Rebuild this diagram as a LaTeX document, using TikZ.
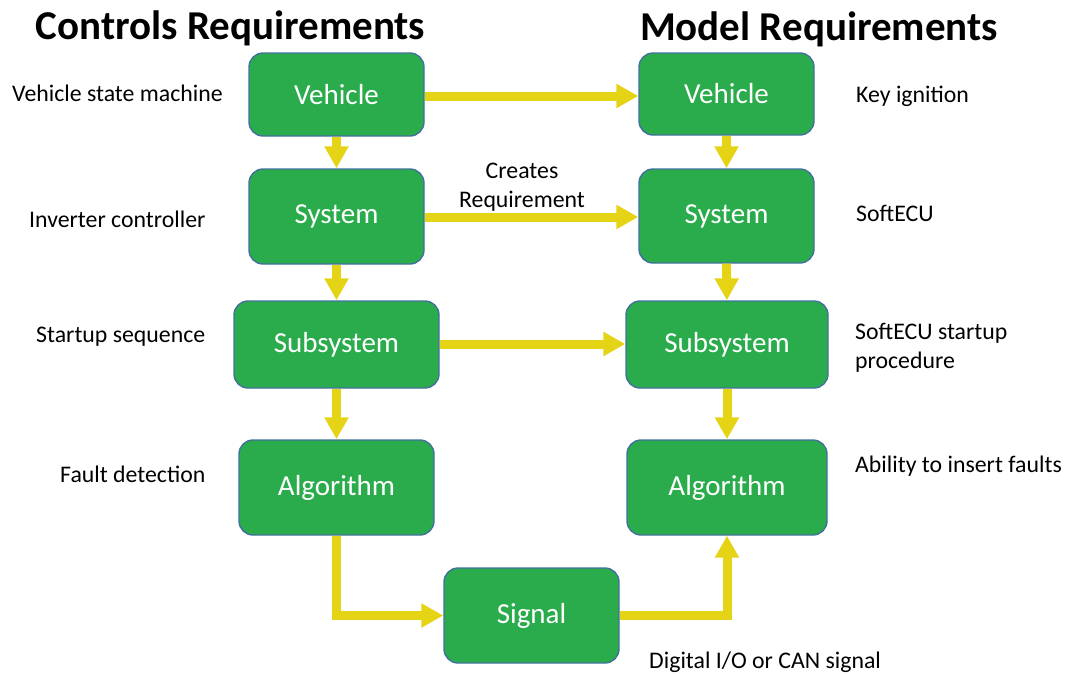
\documentclass[tikz,border=0pt]{standalone}
\usepackage{fontspec}
\setmainfont{Carlito}
\usetikzlibrary{arrows.meta}

\definecolor{boxgreen}{RGB}{42,172,76}
\definecolor{boxedge}{RGB}{65,113,156}
\definecolor{flowyellow}{RGB}{229,212,22}

\tikzset{
  block/.style={draw=boxedge, line width=1.4pt, fill=boxgreen, rounded corners=14pt,
    text=white, font=\fontsize{29pt}{34pt}\selectfont, inner sep=0pt},
  flow/.style={draw=flowyellow, line width=9pt,
    -{Triangle[width=23pt,length=22pt]}},
  heading/.style={font=\fontsize{41pt}{47pt}\selectfont\bfseries, anchor=base, inner sep=0pt},
  note/.style={font=\fontsize{23.8pt}{29pt}\selectfont, anchor=base west, inner sep=0pt},
}

\begin{document}
\begin{tikzpicture}[x=1pt,y=-1pt]
\useasboundingbox (0,0) rectangle (1068,673);

% column headings
\node[heading] (hctl) at (230.5,39) {Controls Requirements};
\node[heading] (hmdl) at (819,40) {Model Requirements};

% controls side
\node[block, minimum width=175pt, minimum height=83pt] (cveh) at (336.5,94.5) {Vehicle};
\node[block, minimum width=175pt, minimum height=95pt] (csys) at (336.5,216.5) {System};
\node[block, minimum width=205pt, minimum height=87pt] (csub) at (336.5,344.5) {Subsystem};
\node[block, minimum width=195pt, minimum height=95pt] (calg) at (336.5,487.5) {Algorithm};

% model side
\node[block, minimum width=175pt, minimum height=82pt] (mveh) at (726.5,94) {Vehicle};
\node[block, minimum width=175pt, minimum height=94pt] (msys) at (726.5,216) {System};
\node[block, minimum width=202pt, minimum height=87pt] (msub) at (727,344.5) {Subsystem};
\node[block, minimum width=200pt, minimum height=95pt] (malg) at (727,487.5) {Algorithm};

% shared signal
\node[block, minimum width=175pt, minimum height=95pt] (sig) at (531.5,615.5) {Signal};

% side notes
\node[note] (n1) at (12,101) {Vehicle state machine};
\node[note] (n2) at (29,227) {Inverter controller};
\node[note] (n3) at (36,342) {Startup sequence};
\node[note] (n4) at (60,482) {Fault detection};
\node[note] (n5) at (856,102) {Key ignition};
\node[note] (n6) at (856,221) {SoftECU};
\node[note] (n7) at (855,339) {\begin{tabular}[t]{@{}l@{}}SoftECU startup\\procedure\end{tabular}};
\node[note] (n8) at (855,472) {Ability to insert faults};
\node[note] (n9) at (649,668) {Digital I/O or CAN signal};
\node[note, anchor=base] (n10) at (522,178) {\begin{tabular}[t]{@{}c@{}}Creates\\Requirement\end{tabular}};

% vertical flow
\draw[flow] (cveh) -- (csys);
\draw[flow] (csys) -- (csub);
\draw[flow] (csub) -- (calg);
\draw[flow] (mveh) -- (msys);
\draw[flow] (msys) -- (msub);
\draw[flow] (msub) -- (malg);

% horizontal flow
\draw[flow] (cveh.east |- 0,96) -- (mveh.west |- 0,96);
\draw[flow] (csys.east |- 0,217) -- (msys.west |- 0,217);
\draw[flow] (csub.east |- 0,344) -- (msub.west |- 0,344);

% through the signal
\draw[flow] (calg.south) |- (sig.west);
\draw[flow] (sig.east) -| (malg.south);
\end{tikzpicture}
\end{document}
